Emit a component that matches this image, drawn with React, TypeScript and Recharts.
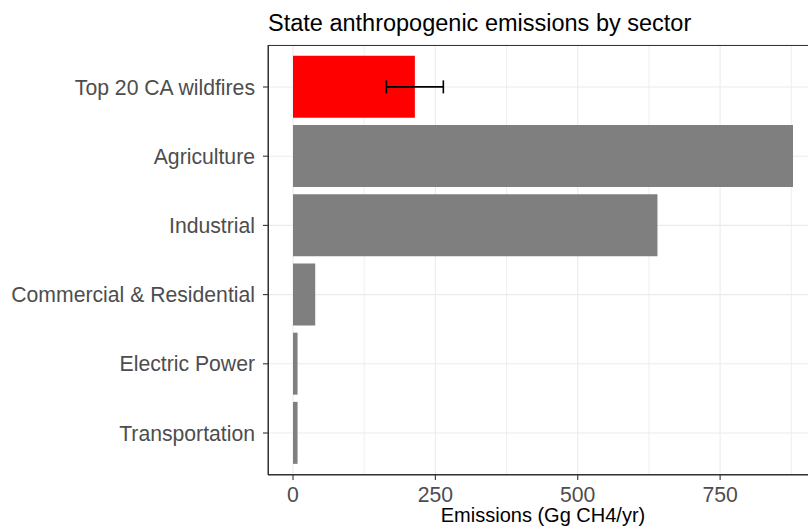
import { BarChart, Bar, XAxis, YAxis, CartesianGrid, ErrorBar, Cell, Label } from 'recharts';

// data
const sectors = [
  'Top 20 CA wildfires',
  'Agriculture',
  'Industrial',
  'Commercial & Residential',
  'Electric Power',
  'Transportation',
];
const emissions = [214, 878, 640, 39, 8, 8];
const errors = [50, null, null, null, null, null];
const majorTicks = [0, 250, 500, 750];
const minorTicks = [125, 375, 625, 875];

const data = sectors.map((s, i) => ({ sector: s, value: emissions[i], err: errors[i] }));

// ggplot default expansion: 5% each side
const maxVal = Math.max(...emissions);
const xDomain = [-0.05 * maxVal, 1.05 * maxVal];

const FONT = '"Liberation Sans", Arial, sans-serif';
const GRID = '#EBEBEB';

export default function App() {
  return (
    <div
      style={{
        position: 'absolute',
        left: 0,
        top: 0,
        width: 808,
        height: 527,
        overflow: 'hidden',
        background: '#fff',
        fontFamily: FONT,
      }}
    >
      <div
        style={{
          position: 'absolute',
          left: 268,
          top: 11,
          fontSize: 23.5,
          lineHeight: '24px',
          color: '#000',
          whiteSpace: 'nowrap',
        }}
      >
        State anthropogenic emissions by sector
      </div>
      <BarChart
        width={818}
        height={527}
        data={data}
        layout="vertical"
        margin={{ top: 45, right: 0, bottom: 0, left: 0 }}
        barCategoryGap="5%"
      >
        <CartesianGrid stroke={GRID} strokeWidth={0.8} horizontal={false} verticalValues={minorTicks} />
        <CartesianGrid stroke={GRID} strokeWidth={1.1} />
        <XAxis
          type="number"
          domain={xDomain}
          ticks={majorTicks}
          allowDataOverflow
          height={52}
          tickSize={5}
          tickMargin={7}
          axisLine={{ stroke: '#333333' }}
          tickLine={{ stroke: '#333333', strokeWidth: 1.1 }}
          tick={{ fill: '#4D4D4D', fontSize: 21.2, fontFamily: FONT }}
        >
          <Label
            value="Emissions (Gg CH4/yr)"
            position="insideBottom"
            offset={5}
            style={{ fill: '#000', fontSize: 20, fontFamily: FONT }}
          />
        </XAxis>
        <YAxis
          type="category"
          dataKey="sector"
          width={268}
          interval={0}
          padding={{ top: 7.4, bottom: 7.4 }}
          tickSize={5}
          tickMargin={8}
          axisLine={{ stroke: '#333333' }}
          tickLine={{ stroke: '#333333', strokeWidth: 1.1 }}
          tick={{ fill: '#4D4D4D', fontSize: 21.2, fontFamily: FONT }}
        />
        <Bar dataKey="value" isAnimationActive={false}>
          {data.map((d, i) => (
            <Cell key={d.sector} fill={i === 0 ? '#FF0000' : '#7F7F7F'} />
          ))}
          <ErrorBar dataKey="err" direction="x" width={6.5} stroke="#000" strokeWidth={1.6} />
        </Bar>
      </BarChart>
      <div
        style={{
          position: 'absolute',
          left: 268,
          top: 45,
          width: 550,
          height: 430,
          border: '1px solid #333333',
          boxSizing: 'border-box',
          pointerEvents: 'none',
        }}
      />
    </div>
  );
}
